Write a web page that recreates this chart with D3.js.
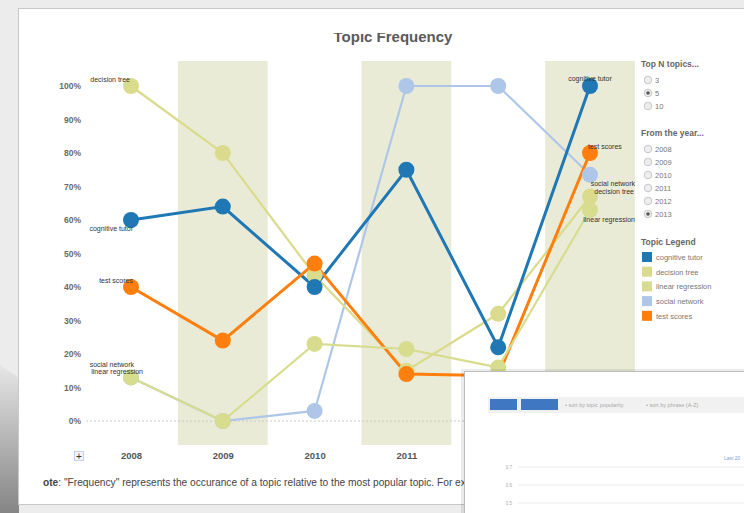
<!DOCTYPE html>
<html><head><meta charset="utf-8">
<script src="https://cdn.jsdelivr.net/npm/d3@7"></script>
<style>
html,body{margin:0;padding:0;background:#ececec;overflow:hidden;}
svg{display:block;font-family:"Liberation Sans",Arial,sans-serif;}
</style></head>
<body>
<svg id="chart" width="744" height="513"></svg>
<script>
// ---- data ----
const years = [2008, 2009, 2010, 2011, 2012, 2013];
const topics = ["cognitive tutor", "decision tree", "linear regression", "social network", "test scores"];
const cognitiveTutor   = [60, 64, 40, 75, 22, 100];
const decisionTree     = [100, 80, 43.5, 15, 32, 67];
const linearRegression = [13, 0, 23, 21.5, 16, 63];
const socialNetwork    = [13, 0, 3, 100, 100, 73.5];
const testScores       = [40, 24, 47, 14, 13.5, 80];
const yTicks = [0, 10, 20, 30, 40, 50, 60, 70, 80, 90, 100];
const shadedYears = [2009, 2011, 2013];
const topNOptions = ["3", "5", "10"];
const fromYearOptions = ["2008", "2009", "2010", "2011", "2012", "2013"];
const overlayTicks = ["0.7", "0.6", "0.5"];

// ---- style ----
const colors = {
  "cognitive tutor": "#1f77b4",
  "decision tree": "#dbdb8d",
  "linear regression": "#d8dc8e",
  "social network": "#aec7e8",
  "test scores": "#ff7f0e"
};
const widths = {"cognitive tutor": 3, "decision tree": 2.2, "linear regression": 2.2, "social network": 2.2, "test scores": 3};
// label offsets [dx, dy, anchor] at first and last point
const labelStyle = {
  "cognitive tutor":   {first: [2, 11, "end"],  last: [0, -5, "middle"]},
  "decision tree":     {first: [-1, -4, "end"], last: [44, -3, "end"]},
  "linear regression": {first: [12, -3, "end"], last: [45, 12, "end"]},
  "social network":    {first: [3, -10, "end"], last: [45, 11, "end"]},
  "test scores":       {first: [2, -4, "end"],  last: [-2, -4, "start"]}
};

const seriesValues = {
  "cognitive tutor": cognitiveTutor,
  "decision tree": decisionTree,
  "linear regression": linearRegression,
  "social network": socialNetwork,
  "test scores": testScores
};
const drawOrder = ["social network", "decision tree", "cognitive tutor", "test scores", "linear regression"];

const svg = d3.select("#chart");
const defs = svg.append("defs");

// background page & card
svg.append("rect").attr("width", 744).attr("height", 513).attr("fill", "#ececec");
const sg = defs.append("linearGradient").attr("id", "shadow").attr("x1", 0).attr("y1", 0).attr("x2", 0).attr("y2", 1);
sg.append("stop").attr("offset", "0%").attr("stop-color", "#e6e6e6");
sg.append("stop").attr("offset", "100%").attr("stop-color", "#858585");
svg.append("path").attr("d", "M0,365 L19,378 L19,513 L0,513 Z").attr("fill", "url(#shadow)");
svg.append("rect").attr("x", 18.5).attr("y", 8.5).attr("width", 740).attr("height", 496)
  .attr("fill", "#fff").attr("stroke", "#c8c8c8");

// scales
const x = d3.scalePoint().domain(years).range([131, 590]);
const y = d3.scaleLinear().domain([0, 100]).range([421, 86]);
const step = x.step();

// shaded bands
svg.append("g").selectAll("rect").data(shadedYears).join("rect")
  .attr("x", d => x(d) - step / 2 + 1).attr("width", step - 2)
  .attr("y", 61).attr("height", 445 - 61)
  .attr("fill", "#e9ebd6");

// title (top clipped)
defs.append("clipPath").attr("id", "titleClip").append("rect").attr("x", 0).attr("y", 33).attr("width", 744).attr("height", 40);
svg.append("text").attr("clip-path", "url(#titleClip)")
  .attr("x", 393).attr("y", 42).attr("text-anchor", "middle")
  .attr("font-size", 15).attr("font-weight", "bold").attr("fill", "#5a5a5a")
  .text("Topic Frequency");

// y axis title (partly clipped)
defs.append("clipPath").attr("id", "yClip").append("rect").attr("x", 44).attr("y", 0).attr("width", 20).attr("height", 513);
svg.append("text").attr("clip-path", "url(#yClip)")
  .attr("transform", "translate(51,252) rotate(-90)").attr("text-anchor", "middle")
  .attr("font-size", 9).attr("font-weight", "bold").attr("fill", "#555")
  .text("Topic Frequency");

// y axis
const yAxis = d3.axisLeft(y).tickValues(yTicks).tickFormat(d => d + "%").tickSize(0).tickPadding(0);
const yg = svg.append("g").attr("transform", "translate(81,0)").call(yAxis);
yg.select(".domain").remove();
yg.selectAll("text").attr("font-size", 8.5).attr("font-weight", "bold").attr("fill", "#6a6a6a")
  .attr("font-family", "'Liberation Sans',Arial,sans-serif");

// zero line
svg.append("line").attr("x1", 86).attr("x2", 634).attr("y1", y(0)).attr("y2", y(0))
  .attr("stroke", "#c8c8c8").attr("stroke-dasharray", "2,2");

// x axis
const xAxis = d3.axisBottom(x).tickSize(0).tickPadding(0);
const xg = svg.append("g").attr("transform", "translate(0,452)").call(xAxis);
xg.select(".domain").remove();
xg.selectAll("text").attr("font-size", 9.5).attr("font-weight", "bold").attr("fill", "#555")
  .attr("font-family", "'Liberation Sans',Arial,sans-serif");

// + button
svg.append("rect").attr("x", 74.5).attr("y", 451.5).attr("width", 9).attr("height", 9)
  .attr("fill", "#f2f4fa").attr("stroke", "#c9cfe0");
svg.append("text").attr("x", 79).attr("y", 459.5).attr("text-anchor", "middle")
  .attr("font-size", 10).attr("fill", "#333").text("+");

// lines
const line = d3.line().x((d, i) => x(years[i])).y(d => y(d));
const lg = svg.append("g");
drawOrder.forEach(t => {
  lg.append("path").datum(seriesValues[t]).attr("d", line)
    .attr("fill", "none").attr("stroke", colors[t]).attr("stroke-width", widths[t]);
});
// dots
const dg = svg.append("g");
drawOrder.forEach(t => {
  dg.selectAll(null).data(seriesValues[t]).join("circle")
    .attr("cx", (d, i) => x(years[i])).attr("cy", d => y(d)).attr("r", 8)
    .attr("fill", colors[t]);
});
// labels
const tg = svg.append("g").attr("font-size", 7).attr("fill", "#333");
topics.forEach(t => {
  const v = seriesValues[t];
  const ls = labelStyle[t];
  [["first", 0], ["last", v.length - 1]].forEach(([k, i]) => {
    tg.append("text").attr("x", x(years[i]) + ls[k][0]).attr("y", y(v[i]) + ls[k][1])
      .attr("text-anchor", ls[k][2]).text(t);
  });
});

// right controls
const ctl = svg.append("g").attr("font-family", "'Liberation Sans',Arial,sans-serif");
function header(txt, yy) {
  ctl.append("text").attr("x", 641).attr("y", yy + 3).attr("font-size", 8.5).attr("font-weight", "bold")
    .attr("fill", "#666").text(txt);
}
function radios(opts, y0, sel) {
  opts.forEach((o, i) => {
    const yy = y0 + i * 13;
    ctl.append("circle").attr("cx", 648).attr("cy", yy).attr("r", 3.8)
      .attr("fill", "#eee").attr("stroke", "#bbb").attr("stroke-width", 0.8);
    if (o === sel) ctl.append("circle").attr("cx", 648).attr("cy", yy).attr("r", 1.8).attr("fill", "#555");
    ctl.append("text").attr("x", 655).attr("y", yy + 3).attr("font-size", 7.5).attr("fill", "#777").text(o);
  });
}
header("Top N topics...", 64);
radios(topNOptions, 80, "5");
header("From the year...", 133);
radios(fromYearOptions, 149, "2013");
header("Topic Legend", 242);
topics.forEach((t, i) => {
  const yy = 257 + i * 14.7;
  ctl.append("rect").attr("x", 642).attr("y", yy - 5).attr("width", 10).attr("height", 10).attr("fill", colors[t]);
  ctl.append("text").attr("x", 656).attr("y", yy + 3).attr("font-size", 7.5).attr("fill", "#777").text(t);
});

// note
svg.append("text").attr("x", 43).attr("y", 486).attr("font-size", 10.2).attr("fill", "#444")
  .html('<tspan font-weight="bold">ote</tspan>: "Frequency" represents the occurance of a topic relative to the most popular topic.  For ex');

// overlay window
const ov = svg.append("g");
ov.append("rect").attr("x", 461).attr("y", 369).attr("width", 300).attr("height", 160).attr("fill", "#000").attr("opacity", 0.08);
ov.append("rect").attr("x", 464.5).attr("y", 371.5).attr("width", 300).attr("height", 160)
  .attr("fill", "#fff").attr("stroke", "#bdbdbd");
ov.append("rect").attr("x", 488).attr("y", 397).attr("width", 260).attr("height", 16).attr("fill", "#f1f1f1");
ov.append("rect").attr("x", 490).attr("y", 399).attr("width", 27).attr("height", 11).attr("fill", "#3f77c3");
ov.append("rect").attr("x", 521).attr("y", 399).attr("width", 37).attr("height", 11).attr("fill", "#3f77c3");
ov.append("text").attr("x", 565).attr("y", 407).attr("font-size", 5.5).attr("fill", "#aaa").text("• sort by topic popularity");
ov.append("text").attr("x", 646).attr("y", 407).attr("font-size", 5.5).attr("fill", "#aaa").text("• sort by phrase (A-Z)");
ov.append("text").attr("x", 724).attr("y", 460).attr("font-size", 5).attr("fill", "#7a9fd0").text("Last 20");
const oy = d3.scalePoint().domain(overlayTicks).range([467, 503]);
overlayTicks.forEach(t => {
  ov.append("line").attr("x1", 518).attr("x2", 744).attr("y1", oy(t)).attr("y2", oy(t)).attr("stroke", "#eaeaea");
  ov.append("text").attr("x", 509).attr("y", oy(t) + 2).attr("font-size", 4.5).attr("fill", "#aaa").attr("text-anchor", "middle").text(t);
});
</script>
</body></html>
